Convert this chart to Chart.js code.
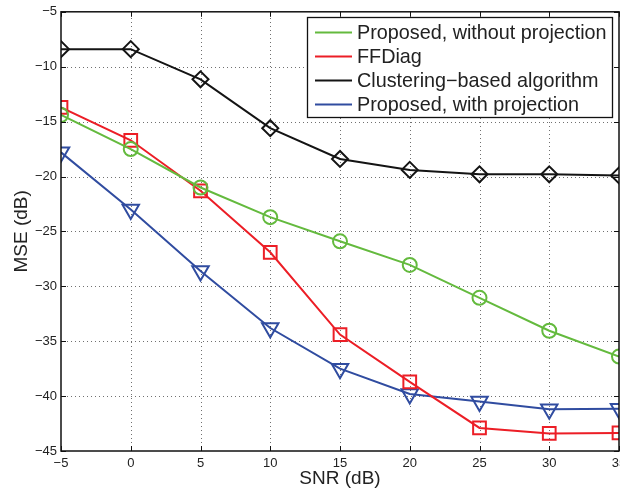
<!DOCTYPE html>
<html>
<head>
<meta charset="utf-8">
<script src="https://cdn.jsdelivr.net/npm/chart.js@4.4.1/dist/chart.umd.min.js"></script>
<style>
  html, body { margin: 0; padding: 0; background: #fff; overflow: hidden; }
  #wrap { width: 620px; height: 491px; overflow: hidden; }
</style>
</head>
<body>
<div id="wrap"><canvas id="mseChart" width="640" height="491"></canvas></div>
<script>
const snr = [-5, 0, 5, 10, 15, 20, 25, 30, 35];
const xTicks = [-5, 0, 5, 10, 15, 20, 25, 30, 35];
const yTicks = [-45, -40, -35, -30, -25, -20, -15, -10, -5];

const withoutProjection = [-14.4, -17.5, -21.0, -23.7, -25.9, -28.05, -31.05, -34.05, -36.4];
const ffdiag = [-13.7, -16.7, -21.3, -26.9, -34.4, -38.7, -42.9, -43.4, -43.35];
const clustering = [-8.4, -8.4, -11.15, -15.6, -18.4, -19.4, -19.8, -19.8, -19.9];
const withProjection = [-17.8, -23.0, -28.6, -33.8, -37.5, -39.8, -40.5, -41.2, -41.15];

const seriesNames = [
  "Proposed, without projection",
  "FFDiag",
  "Clustering\u2212based algorithm",
  "Proposed, with projection",
];

const FONT = "'Liberation Sans', Arial, Helvetica, sans-serif";
const TEXT = "#222";
const GRID = "#707070";

function toPoints(ys) {
  return snr.map((x, i) => ({ x: x, y: ys[i] }));
}

function series(label, ys, color, style, radius, rotation) {
  return {
    label: label,
    data: toPoints(ys),
    showLine: true,
    borderColor: color,
    backgroundColor: "rgba(0,0,0,0)",
    borderWidth: 2,
    pointStyle: style,
    pointRadius: radius,
    pointHoverRadius: radius,
    pointRotation: rotation || 0,
    pointBorderColor: color,
    pointBackgroundColor: "rgba(0,0,0,0)",
    pointBorderWidth: 2,
  };
}

// plot box in pixels, taken from the scales themselves
function plotBox(chart) {
  const xs = chart.scales.x;
  const ys = chart.scales.y;
  return {
    left: xs.getPixelForValue(xTicks[0]),
    right: xs.getPixelForValue(xTicks[xTicks.length - 1]),
    top: ys.getPixelForValue(yTicks[yTicks.length - 1]),
    bottom: ys.getPixelForValue(yTicks[0]),
  };
}

// dotted matlab style grid, under the lines (dots placed one by one)
const gridPlugin = {
  id: "gridPlugin",
  beforeDatasetsDraw(chart) {
    const ctx = chart.ctx;
    const a = plotBox(chart);
    const xs = chart.scales.x;
    const ys = chart.scales.y;
    ctx.save();
    ctx.fillStyle = GRID;
    xTicks.slice(1, -1).forEach((v) => {
      const px = Math.round(xs.getPixelForValue(v));
      for (let y = Math.round(a.top) + 2; y < a.bottom - 1; y += 4) {
        ctx.fillRect(px, y, 1, 1);
      }
    });
    yTicks.slice(1, -1).forEach((v) => {
      const py = Math.round(ys.getPixelForValue(v));
      for (let x = Math.round(a.left) + 2; x < a.right - 1; x += 4) {
        ctx.fillRect(x, py, 1, 1);
      }
    });
    ctx.restore();
  },
};

// box, inward ticks and legend drawn like the matlab figure
const boxPlugin = {
  id: "boxPlugin",
  afterDraw(chart) {
    const ctx = chart.ctx;
    const a = plotBox(chart);
    const xs = chart.scales.x;
    const ys = chart.scales.y;
    ctx.save();
    ctx.strokeStyle = "#111";
    ctx.lineWidth = 1.5;
    ctx.strokeRect(a.left, a.top, a.right - a.left, a.bottom - a.top);
    ctx.lineWidth = 1;
    ctx.beginPath();
    xTicks.forEach((v) => {
      const px = Math.round(xs.getPixelForValue(v)) + 0.5;
      ctx.moveTo(px, a.bottom); ctx.lineTo(px, a.bottom - 5);
      ctx.moveTo(px, a.top); ctx.lineTo(px, a.top + 5);
    });
    yTicks.forEach((v) => {
      const py = Math.round(ys.getPixelForValue(v)) + 0.5;
      ctx.moveTo(a.left, py); ctx.lineTo(a.left + 5, py);
      ctx.moveTo(a.right, py); ctx.lineTo(a.right - 5, py);
    });
    ctx.stroke();

    // legend
    const lx = 307, ly = 17, lw = 305, lh = 100;
    ctx.fillStyle = "#fff";
    ctx.fillRect(lx, ly, lw, lh);
    ctx.strokeStyle = "#111";
    ctx.lineWidth = 1.3;
    ctx.strokeRect(lx + 0.5, ly + 0.5, lw, lh);
    chart.data.datasets.forEach((ds, i) => {
      const cy = 32.5 + i * 24;
      ctx.strokeStyle = ds.borderColor;
      ctx.lineWidth = 2;
      ctx.beginPath();
      ctx.moveTo(315, cy);
      ctx.lineTo(352, cy);
      ctx.stroke();
      Chart.helpers.drawPoint(ctx, {
        pointStyle: ds.pointStyle,
        rotation: ds.pointRotation,
        borderWidth: 2,
      }, 333, cy, ds.pointRadius);
      ctx.fillStyle = TEXT;
      ctx.font = "19.8px " + FONT;
      ctx.textBaseline = "middle";
      ctx.textAlign = "left";
      ctx.fillText(ds.label, 357, cy + 1);
    });
    ctx.restore();
  },
};

const hiddenGrid = { display: true, drawTicks: false, drawOnChartArea: false, color: "rgba(0,0,0,0)" };

new Chart(document.getElementById("mseChart"), {
  type: "scatter",
  data: {
    datasets: [
      series(seriesNames[0], withoutProjection, "rgb(100,186,62)", "circle", 7),
      series(seriesNames[1], ffdiag, "rgb(236,30,38)", "rect", 9),
      series(seriesNames[2], clustering, "rgb(20,20,20)", "rectRot", 8),
      series(seriesNames[3], withProjection, "rgb(48,76,160)", "triangle", 9.5, 180),
    ],
  },
  options: {
    responsive: false,
    animation: false,
    events: [],
    layout: { padding: { left: 0, right: 21, top: 11, bottom: 0 } },
    plugins: { legend: { display: false }, tooltip: { enabled: false } },
    scales: {
      x: {
        type: "linear",
        min: -5,
        max: 35,
        afterBuildTicks: (s) => { s.ticks = xTicks.map((v) => ({ value: v })); },
        afterFit: (s) => { s.height = 40; },
        border: { display: false },
        grid: hiddenGrid,
        ticks: {
          color: TEXT,
          font: { family: FONT, size: 13 },
          padding: 5,
          maxRotation: 0,
          callback: (v) => String(v).replace("-", "\u2212"),
        },
        title: {
          display: true,
          text: "SNR (dB)",
          color: TEXT,
          font: { family: FONT, size: 19 },
          padding: { top: 0, bottom: 1 },
        },
      },
      y: {
        type: "linear",
        min: -45,
        max: -5,
        afterBuildTicks: (s) => { s.ticks = yTicks.map((v) => ({ value: v })); },
        afterFit: (s) => { s.width = 61; },
        border: { display: false },
        grid: hiddenGrid,
        ticks: {
          color: TEXT,
          font: { family: FONT, size: 13 },
          padding: 4,
          callback: (v) => String(v).replace("-", "\u2212"),
        },
        title: {
          display: true,
          text: "MSE (dB)",
          color: TEXT,
          font: { family: FONT, size: 19 },
          padding: { top: 10, bottom: 0 },
        },
      },
    },
  },
  plugins: [gridPlugin, boxPlugin],
});
</script>
</body>
</html>
